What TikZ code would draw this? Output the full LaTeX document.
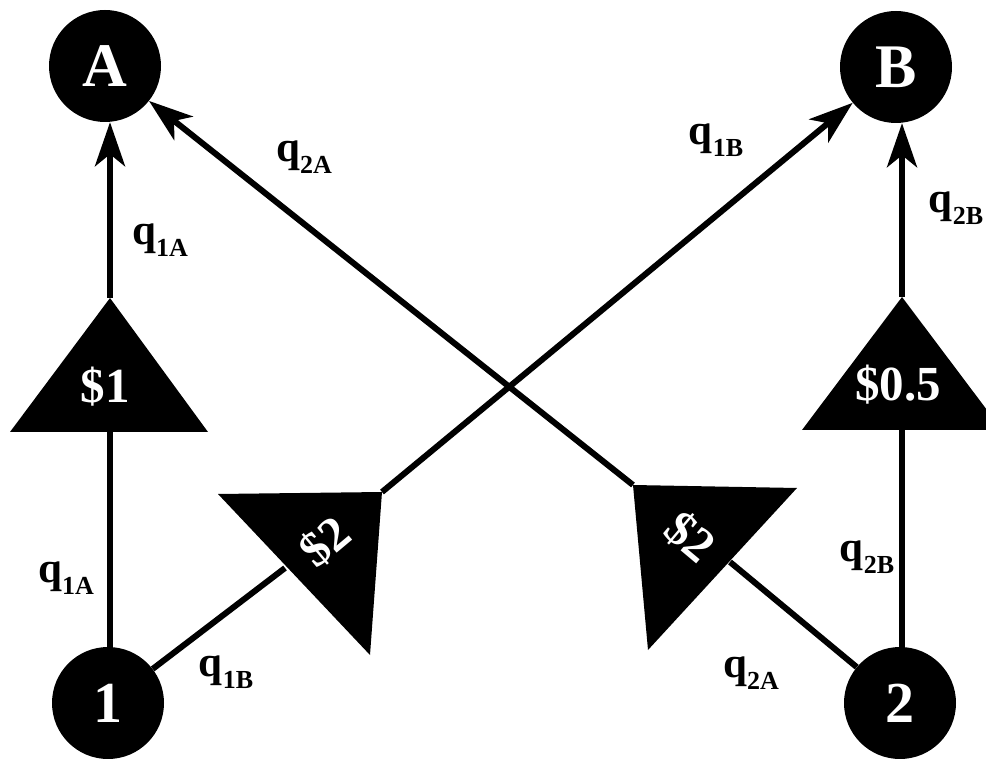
\documentclass[tikz,border=0pt]{standalone}
\usepackage{fontspec}
\setmainfont{Liberation Serif}
\usetikzlibrary{arrows.meta}
\newcommand\qlab[1]{\fontsize{43}{43}\selectfont q\raisebox{-12pt}{\fontsize{26}{26}\selectfont #1}}
\tikzset{
  circnode/.style={circle,fill=black,text=white,minimum size=112pt,inner sep=0pt,font=\bfseries},
  conn/.style={line width=6pt,draw=black},
  arr/.style={conn,-{Stealth[length=44pt,width=30pt,inset=12pt]}},
  tri/.style={fill=black},
  pricetxt/.style={text=white,inner sep=0pt,font=\bfseries\fontsize{49}{49}\selectfont},
  qnode/.style={inner sep=0pt,font=\bfseries}
}
\begin{document}
\begin{tikzpicture}[x=1pt,y=-1pt]
\useasboundingbox (0,0) rectangle (986,759);
% nodes
\node[circnode,font=\bfseries\fontsize{62}{62}\selectfont] (A) at (105,66) {A};
\node[circnode,font=\bfseries\fontsize{62}{62}\selectfont] (B) at (896,67) {B};
\node[circnode,font=\bfseries\fontsize{58}{58}\selectfont] (n1) at (108,703) {\raisebox{-7pt}{1}};
\node[circnode,font=\bfseries\fontsize{58}{58}\selectfont] (n2) at (900,703) {\raisebox{-5pt}{2}};
% triangle key points
\coordinate (T1a) at (110,298);
\coordinate (T1b) at (110,432);
\coordinate (T2a) at (902,297);
\coordinate (T2b) at (902,430);
\coordinate (La) at (382,492);
\coordinate (Lin) at (285,568);
\coordinate (Ra) at (633,485);
\coordinate (Rin) at (730,562);
% connectors
\draw[conn] (T1b |- n1.north) -- (T1b);
\draw[arr] (T1a) -- (T1a |- A.south);
\draw[conn] (T2b |- n2.north) -- (T2b);
\draw[arr] (T2a) -- (T2a |- B.south);
\draw[conn] (n1) -- (Lin);
\draw[arr] (La) -- (B);
\draw[conn] (n2) -- (Rin);
\draw[arr] (Ra) -- (A);
% triangles
\fill[tri] (T1a) -- (10,432) -- (208,432) -- cycle;
\fill[tri] (T2a) -- (802,430) -- (1002,430) -- cycle;
\fill[tri] (218,494) -- (La) -- (370,655) -- cycle;
\fill[tri] (Ra) -- (797,488) -- (648,650) -- cycle;
% price texts
\node[pricetxt] (p1) at (105,387) {\$1};
\node[pricetxt] (p2) at (898,385) {\$0.5};
\node[pricetxt,rotate=40] (p3) at (325,542) {\$2};
\node[pricetxt,rotate=-40] (p4) at (690,537) {\$2};
% flow labels
\node[qnode] (l1) at (160,240) {\qlab{1A}};
\node[qnode] (l2) at (304,157) {\qlab{2A}};
\node[qnode] (l3) at (716,140) {\qlab{1B}};
\node[qnode] (l4) at (956,208) {\qlab{2B}};
\node[qnode] (l5) at (867,557) {\qlab{2B}};
\node[qnode] (l6) at (66,578) {\qlab{1A}};
\node[qnode] (l7) at (226,672) {\qlab{1B}};
\node[qnode] (l8) at (751,673) {\qlab{2A}};
\end{tikzpicture}
\end{document}
